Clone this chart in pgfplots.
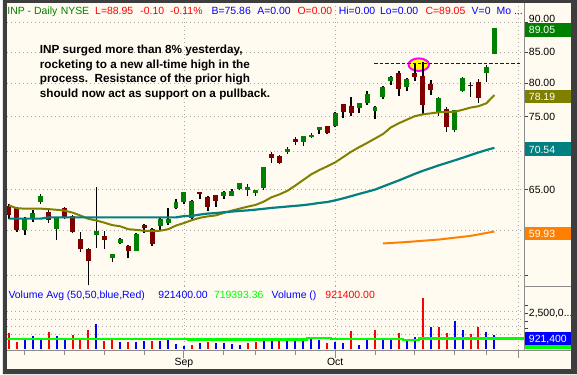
\documentclass[border=0pt]{standalone}
\usepackage{pgfplots}
\pgfplotsset{compat=1.18}
\usepackage{fontspec}
\setmainfont{Liberation Sans}
\definecolor{cream}{HTML}{FFFBF0}
\definecolor{framec}{HTML}{3E3E3E}
\definecolor{cgreen}{HTML}{008000}
\definecolor{cred}{HTML}{800000}
\definecolor{maolive}{HTML}{808000}
\definecolor{mateal}{HTML}{008080}
\definecolor{orng}{HTML}{FF8000}
\definecolor{limec}{HTML}{00FF00}
\definecolor{vblue}{HTML}{0000FF}
\definecolor{vred}{HTML}{FF0000}
\definecolor{gridc}{HTML}{A8A8A8}
\definecolor{sepc}{HTML}{8C8C8C}
\definecolor{magc}{HTML}{FF00FF}
\definecolor{yelc}{HTML}{FFFF00}
\begin{document}
\begin{tikzpicture}
\begin{scope}[x=1pt,y=-1pt]
\fill[cream] (0,0) rectangle (577,376);
\end{scope}

% ---------------- price pane ----------------
\begin{axis}[
  at={(4pt,-3pt)}, anchor=north west,
  scale only axis, width=520pt, height=284pt,
  xmin=-0.25, xmax=64.75, ymode=log, ymin=53.94, ymax=93.52,
  axis line style={draw=none}, major tick length=0pt,
  xtick={22,41,64}, ytick={55,60,65,70,75,80,85,90},
  xticklabels={}, yticklabels={},
  xmajorgrids, ymajorgrids,
  major grid style={gridc, line width=0.8pt, dash pattern=on 0.9pt off 3.1pt},
]
\draw[draw=magc, fill=yelc, line width=2pt] (axis cs:51.5,82.93) ellipse [x radius=10.3pt, y radius=6.3pt];
% wicks
\addplot[black, line width=1.6pt, unbounded coords=jump] coordinates {
(0,61.45)(0,63.2)(0,nan) (1,59.92)(1,62.87)(1,nan) (2,59.55)(2,61.6)(2,nan)
(3,61.05)(3,62.46)(3,nan) (4,63.27)(4,64.52)(4,nan) (5,60.88)(5,62.46)(5,nan)
(6,58.92)(6,61.6)(6,nan) (7,61.4)(7,62.9)(7,nan) (8,59.7)(8,61.9)(8,nan)
(9,57.55)(9,59.92)(9,nan) (10,53.97)(10,58.0)(10,nan) (11,58.0)(11,65.3)(11,nan)
(12,57.92)(12,59.97)(12,nan) (13,56.44)(13,57.4)(13,nan) (14,58.45)(14,59.15)(14,nan)
(15,56.89)(15,58.4)(15,nan) (16,57.7)(16,59.7)(16,nan) (17,59.7)(17,60.8)(17,nan)
(18,58.25)(18,60.3)(18,nan) (19,60.16)(19,61.5)(19,nan) (20,60.64)(20,62.78)(20,nan)
(21,62.58)(21,63.88)(21,nan) (22,63.27)(22,64.7)(22,nan) (23,61.45)(23,63.7)(23,nan)
(24,63.88)(24,64.7)(24,nan) (25,62.42)(25,64.2)(25,nan) (26,62.9)(26,64.4)(26,nan)
(27,63.88)(27,64.8)(27,nan) (28,64.16)(28,65.09)(28,nan) (29,64.96)(29,65.9)(29,nan)
(30,64.16)(30,65.75)(30,nan) (31,64.2)(31,65.0)(31,nan) (32,65.0)(32,68.0)(32,nan)
(33,68.49)(33,69.93)(33,nan) (34,68.36)(34,69.5)(34,nan) (35,69.67)(35,70.63)(35,nan)
(36,70.91)(36,72.08)(36,nan) (37,70.8)(37,72.2)(37,nan) (38,71.9)(38,72.6)(38,nan)
(39,72.45)(39,73.5)(39,nan) (40,72.45)(40,73.6)(40,nan) (41,73.4)(41,75.69)(41,nan)
(42,74.8)(42,76.9)(42,nan) (43,75.03)(43,77.87)(43,nan) (44,75.44)(44,77.0)(44,nan)
(45,76.67)(45,78.75)(45,nan) (46,74.55)(46,76.5)(46,nan) (47,77.54)(47,79.5)(47,nan)
(48,79.68)(48,81.1)(48,nan) (49,78.02)(49,81.9)(49,nan) (50,78.78)(50,80.8)(50,nan)
(51,80.3)(51,83.1)(51,nan) (52,75.4)(52,83.3)(52,nan) (53,78.17)(53,80.55)(53,nan)
(54,75.03)(54,77.87)(54,nan) (55,72.7)(55,76.44)(55,nan) (56,72.7)(56,76.0)(56,nan)
(57,78.63)(57,80.9)(57,nan) (58,77.87)(58,80.25)(58,nan) (59,77.04)(59,80.69)(59,nan)
(60,80.15)(60,82.8)(60,nan) (61,84.6)(61,89.1)(61,nan)
};
% green bodies
\addplot[cgreen, line width=5pt, unbounded coords=jump] coordinates {
(2,60.16)(2,61.5)(2,nan) (3,61.45)(3,62.18)(3,nan) (4,63.47)(4,64.24)(4,nan)
(6,60.24)(6,61.54)(6,nan) (11,59.48)(11,60.04)(11,nan) (13,56.92)(13,57.33)(13,nan)
(14,58.55)(14,59.1)(14,nan) (16,57.74)(16,59.66)(16,nan) (19,60.57)(19,61.45)(19,nan)
(20,60.97)(20,61.45)(20,nan) (21,62.78)(21,63.47)(21,nan) (22,63.47)(22,64.66)(22,nan)
(23,61.54)(23,63.63)(23,nan) (27,64.28)(27,64.7)(27,nan) (28,64.28)(28,64.87)(28,nan)
(29,65.09)(29,65.87)(29,nan) (30,65.0)(30,65.39)(30,nan) (31,64.54)(31,64.96)(31,nan)
(32,65.18)(32,67.98)(32,nan) (35,69.97)(35,70.35)(35,nan) (37,71.38)(37,72.18)(37,nan)
(38,72.08)(38,72.36)(38,nan) (39,73.06)(39,73.44)(39,nan) (41,73.54)(41,75.48)(41,nan)
(44,76.29)(44,76.94)(44,nan) (45,77.04)(45,78.34)(45,nan) (46,75.78)(46,76.44)(46,nan)
(47,77.93)(47,79.44)(47,nan) (48,80.3)(48,80.94)(48,nan) (50,79.38)(50,80.69)(50,nan)
(54,75.63)(54,77.69)(54,nan) (56,73.06)(56,75.9)(56,nan) (57,78.78)(57,80.85)(57,nan)
(60,81.65)(60,82.63)(60,nan) (61,84.72)(61,89.05)(61,nan)
};
% red bodies
\addplot[cred, line width=5pt, unbounded coords=jump] coordinates {
(0,62.94)(0,61.85)(0,nan) (1,62.75)(1,60.16)(1,nan) (5,62.3)(5,61.25)(5,nan)
(7,62.75)(7,61.66)(7,nan) (8,61.78)(8,59.92)(8,nan) (9,59.03)(9,57.92)(9,nan)
(10,57.88)(10,56.58)(10,nan) (12,59.41)(12,58.92)(12,nan) (15,58.3)(15,57.7)(15,nan)
(17,60.73)(17,60.4)(17,nan) (18,60.2)(18,58.48)(18,nan) (24,64.66)(24,64.42)(24,nan)
(25,64.12)(25,62.82)(25,nan) (26,64.36)(26,63.63)(26,nan) (33,69.67)(33,69.15)(33,nan)
(34,69.41)(34,68.49)(34,nan) (36,71.76)(36,71.38)(36,nan) (40,73.54)(40,72.6)(40,nan)
(42,76.79)(42,75.63)(42,nan) (43,76.6)(43,75.44)(43,nan) (49,81.53)(49,79.14)(49,nan)
(51,81.65)(51,81.0)(51,nan) (52,81.2)(52,76.7)(52,nan) (53,79.94)(53,78.93)(53,nan)
(55,76.04)(55,73.48)(55,nan) (58,79.78)(58,79.5)(58,nan) (59,80.25)(59,77.74)(59,nan)
};
% moving averages
\addplot[maolive, line width=2pt] coordinates {
(0,63.06)(1,62.71)(2,62.66)(3,62.66)(4,62.66)(5,62.6)(6,62.52)(7,62.42)(8,62.18)(9,61.82)
(10,61.42)(11,61.23)(12,60.97)(13,60.68)(14,60.54)(15,60.2)(16,60.12)(17,60.02)(18,60.0)(19,60.02)
(20,60.19)(21,60.63)(22,60.93)(23,61.27)(24,61.55)(25,61.72)(26,61.84)(27,62.14)(28,62.42)(29,62.66)
(30,62.9)(31,63.12)(32,63.51)(33,64.06)(34,64.42)(35,64.88)(36,65.55)(37,66.27)(38,66.99)(39,67.55)
(40,68.04)(41,68.56)(42,69.28)(43,70.0)(44,70.63)(45,71.21)(46,71.83)(47,72.46)(48,73.4)(49,74.0)
(50,74.52)(51,75.03)(52,75.29)(53,75.44)(54,75.59)(55,75.65)(56,75.68)(57,75.96)(58,76.29)(59,76.49)
(60,76.94)(61,78.19)};
\addplot[mateal, line width=2.2pt] coordinates {
(0,61.45)(4,61.45)(5,61.6)(21,61.6)(22,61.76)(23,61.78)(24,61.94)(25,62.06)(26,62.12)(27,62.22)
(28,62.3)(29,62.38)(30,62.45)(31,62.54)(32,62.64)(33,62.75)(34,62.83)(35,62.92)(36,63.0)(37,63.09)
(38,63.21)(39,63.36)(40,63.47)(41,63.68)(42,63.93)(43,64.2)(44,64.48)(45,64.75)(46,65.03)(47,65.42)
(48,65.81)(49,66.2)(50,66.62)(51,67.05)(52,67.45)(53,67.8)(54,68.17)(55,68.5)(56,68.83)(57,69.18)
(58,69.55)(59,69.9)(60,70.24)(61,70.54)};
\addplot[orng, line width=2pt] coordinates {(47,58.55)(50,58.72)(54,59.0)(58,59.42)(61,59.93)};
% prior-high line
\addplot[vblue, line width=1.4pt, dash pattern=on 3.5pt off 2pt] coordinates {(45.9,83.1)(64.25,83.1)};
\end{axis}

% ---------------- volume pane ----------------
\begin{axis}[
  at={(4pt,-287pt)}, anchor=north west,
  scale only axis, width=520pt, height=65pt,
  xmin=-0.25, xmax=64.75, ymin=-0.0658, ymax=4.21,
  axis line style={draw=none}, major tick length=0pt,
  xtick={22,41,64}, ytick={1,1.5,2,2.5},
  xticklabels={}, yticklabels={},
  xmajorgrids, ymajorgrids,
  major grid style={gridc, line width=0.8pt, dash pattern=on 0.9pt off 3.1pt},
]
\addplot[ycomb, vred, line width=2pt] coordinates {
(0,1.05)(1,0.48)(5,1.12)(8,0.92)(9,0.68)(10,1.25)(12,0.55)(13,0.74)(15,0.48)(18,0.55)
(23,0.31)(25,0.48)(30,0.42)(31,0.48)(34,0.53)(40,0.39)(43,1.18)(46,1.27)(49,1.05)(52,3.36)
(54,1.45)(55,1.05)(58,0.99)(59,1.45)};
\addplot[ycomb, vblue, line width=2pt] coordinates {
(2,0.68)(3,0.86)(4,0.74)(6,0.86)(7,0.59)(11,1.64)(14,0.48)(16,0.48)(17,0.55)(19,0.55)
(20,0.68)(21,0.37)(22,0.2)(24,0.41)(26,0.41)(27,0.41)(28,0.37)(29,0.31)(32,0.57)(33,0.68)
(35,0.64)(36,0.64)(37,0.64)(38,0.68)(39,0.59)(41,0.46)(42,0.39)(44,0.31)(45,0.72)(47,0.68)
(48,0.64)(50,0.59)(51,0.81)(53,1.47)(56,1.86)(57,1.27)(60,1.14)(61,0.92)};
\addplot[const plot, limec, line width=2.3pt] coordinates {
(-0.25,0.70)(22.5,0.65)(37.5,0.74)(40.5,0.67)(49.5,0.59)(51.5,0.72)(64.75,0.72)};
\end{axis}

% ---------------- decorations ----------------
\begin{scope}[x=1pt,y=-1pt,
  hdr/.style={anchor=base west, inner sep=0pt, font=\fontsize{10.5}{12}\selectfont},
  ann/.style={anchor=base west, inner sep=0pt, font=\bfseries\fontsize{11.8}{14}\selectfont}]
% separators and axis
\draw[sepc, line width=1pt] (524.5,3) -- (524.5,352.5);
\draw[sepc, line width=1pt] (4,352.5) -- (571,352.5);
\draw[sepc, line width=1pt] (524.5,287.5) -- (571,287.5);
\foreach \x in {22,62,102,142,222,254,294,374,414,454,486}{\draw[sepc, line width=1pt] (\x,352.5) -- (\x,356.5);}
\foreach \x in {182,334,518}{\draw[sepc, line width=1pt] (\x,352.5) -- (\x,359.5);}
\node[hdr, anchor=base] at (182,367) {Sep};
\node[hdr, anchor=base] at (334,367) {Oct};
% header
\node[hdr, text=cgreen] at (4.4,15) {INP - Daily};
\node[hdr, text=cgreen] at (58,15) {NYSE};
\node[hdr, text=vred] at (92.6,15) {L=88.95};
\node[hdr, text=vred] at (138,15) {-0.10};
\node[hdr, text=vred] at (168,15) {-0.11\%};
\node[hdr, text=vblue] at (209.6,15) {B=75.86};
\node[hdr, text=vblue] at (255.5,15) {A=0.00};
\node[hdr, text=vred] at (296,15) {O=0.00};
\node[hdr, text=vblue] at (337.5,15) {Hi=0.00};
\node[hdr, text=vblue] at (379,15) {Lo=0.00};
\node[hdr, text=vred] at (424.6,15) {C=89.05};
\node[hdr, text=vblue] at (471,15) {V=0};
\node[hdr, text=vblue] at (496,15) {Mo ...};
% annotation
\node[ann] at (37,54) {INP surged more than 8\% yesterday,};
\node[ann] at (37,68.5) {rocketing to a new all-time high in the};
\node[ann] at (37,83) {process.\hspace{0.556em}Resistance of the prior high};
\node[ann] at (37,97.5) {should now act as support on a pullback.};
% volume header
\node[hdr, text=vblue] at (5.5,300) {Volume Avg (50,50,blue,Red)};
\node[hdr, text=vblue] at (156,300) {921400.00};
\node[hdr, text=limec] at (212,300) {719393.36};
\node[hdr, text=vblue] at (270,300) {Volume ()};
\node[hdr, text=vred] at (324,300) {921400.00};
% right axis
\foreach \y in {22.8,52.3,83.6,116.9,152.5,190.7,232.0,276.9,307.4,315,322.6,330.2}{\draw[black!75, line width=0.8pt] (524.5,\y) -- (528,\y);}
\node[hdr] at (528.5,22.2) {90.00};
\node[hdr] at (528.5,56) {85.00};
\node[hdr] at (528.5,87.3) {80.00};
\node[hdr] at (528.5,120.6) {75.00};
\node[hdr] at (528.5,194.4) {65.00};
\node[hdr] at (528.5,318) {2,500,0...};
% value boxes
\fill[cgreen] (525,22.7) rectangle (571,36.7);
\node[hdr, text=white] at (528.5,34) {89.05};
\fill[maolive] (525,90) rectangle (571,104);
\node[hdr, text=white] at (528.5,101.3) {78.19};
\fill[mateal] (525,142.7) rectangle (571,156.7);
\node[hdr, text=white] at (528.5,154) {70.54};
\fill[orng] (525,227.7) rectangle (571,241.3);
\node[hdr, text=white] at (528.5,238.6) {59.93};
\fill[vblue] (525,333.3) rectangle (571,346.9);
\fill[limec] (525,346.9) rectangle (571,350.7);
\node[hdr, text=white] at (528.5,344.2) {921,400};
% outer frame
\fill[framec, even odd rule] (0,0) rectangle (577,376) (4,3) rectangle (571,371);
\end{scope}
\end{tikzpicture}
\end{document}
